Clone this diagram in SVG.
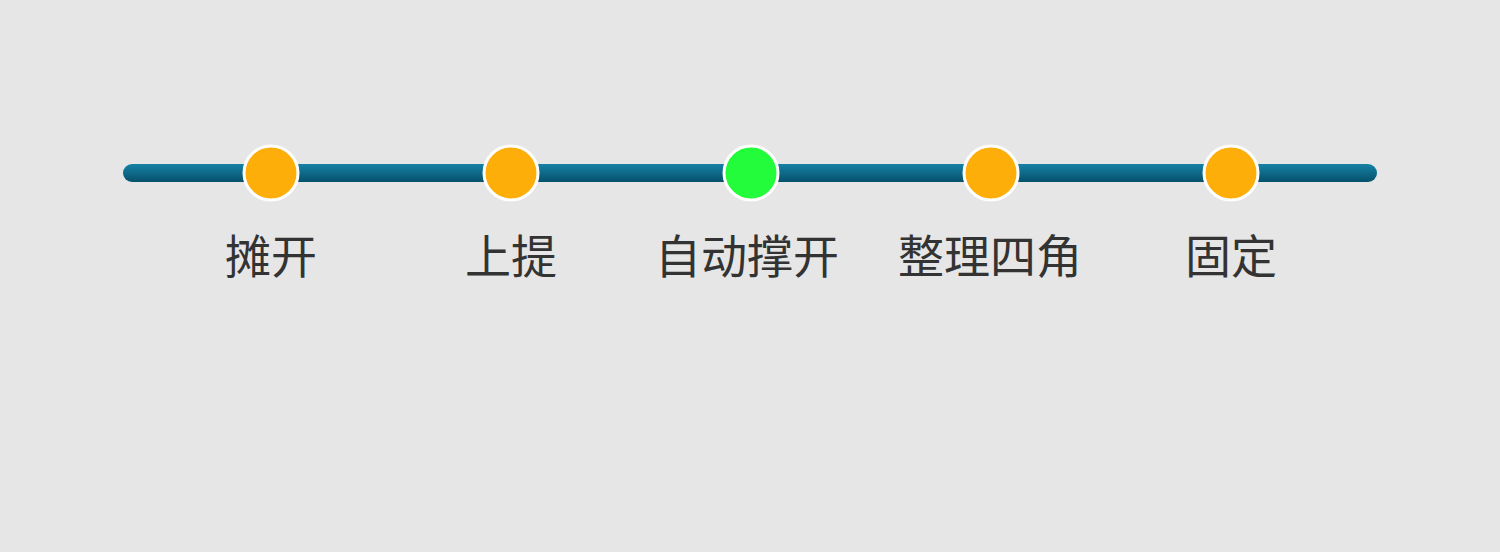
<svg xmlns="http://www.w3.org/2000/svg" width="1500" height="552" viewBox="0 0 1500 552">
<defs>
<linearGradient id="bar" x1="0" y1="0" x2="0" y2="1">
<stop offset="0" stop-color="#1582a6"/>
<stop offset="1" stop-color="#06506b"/>
</linearGradient>
<style>
.dot{stroke:#ffffff;stroke-width:3}
.o{fill:#fdae08}
.g{fill:#22fc3a}
.lbl{font-family:"Noto Sans CJK SC","Noto Sans",sans-serif;font-size:46px;fill:#333333;text-anchor:middle}
</style>
</defs>
<rect width="1500" height="552" fill="#e6e6e6"/>
<g id="connectors">
<rect x="123" y="164" width="1254" height="18" rx="9" fill="url(#bar)"/>
</g>
<g id="n1"><circle class="dot o" cx="271" cy="173" r="27"/><text class="lbl" x="271" y="273">摊开</text></g>
<g id="n2"><circle class="dot o" cx="511" cy="173" r="27"/><text class="lbl" x="511" y="273">上提</text></g>
<g id="n3"><circle class="dot g" cx="751" cy="173" r="27"/><text class="lbl" x="747" y="273">自动撑开</text></g>
<g id="n4"><circle class="dot o" cx="991" cy="173" r="27"/><text class="lbl" x="990" y="273">整理四角</text></g>
<g id="n5"><circle class="dot o" cx="1231" cy="173" r="27"/><text class="lbl" x="1231" y="273">固定</text></g>
</svg>
